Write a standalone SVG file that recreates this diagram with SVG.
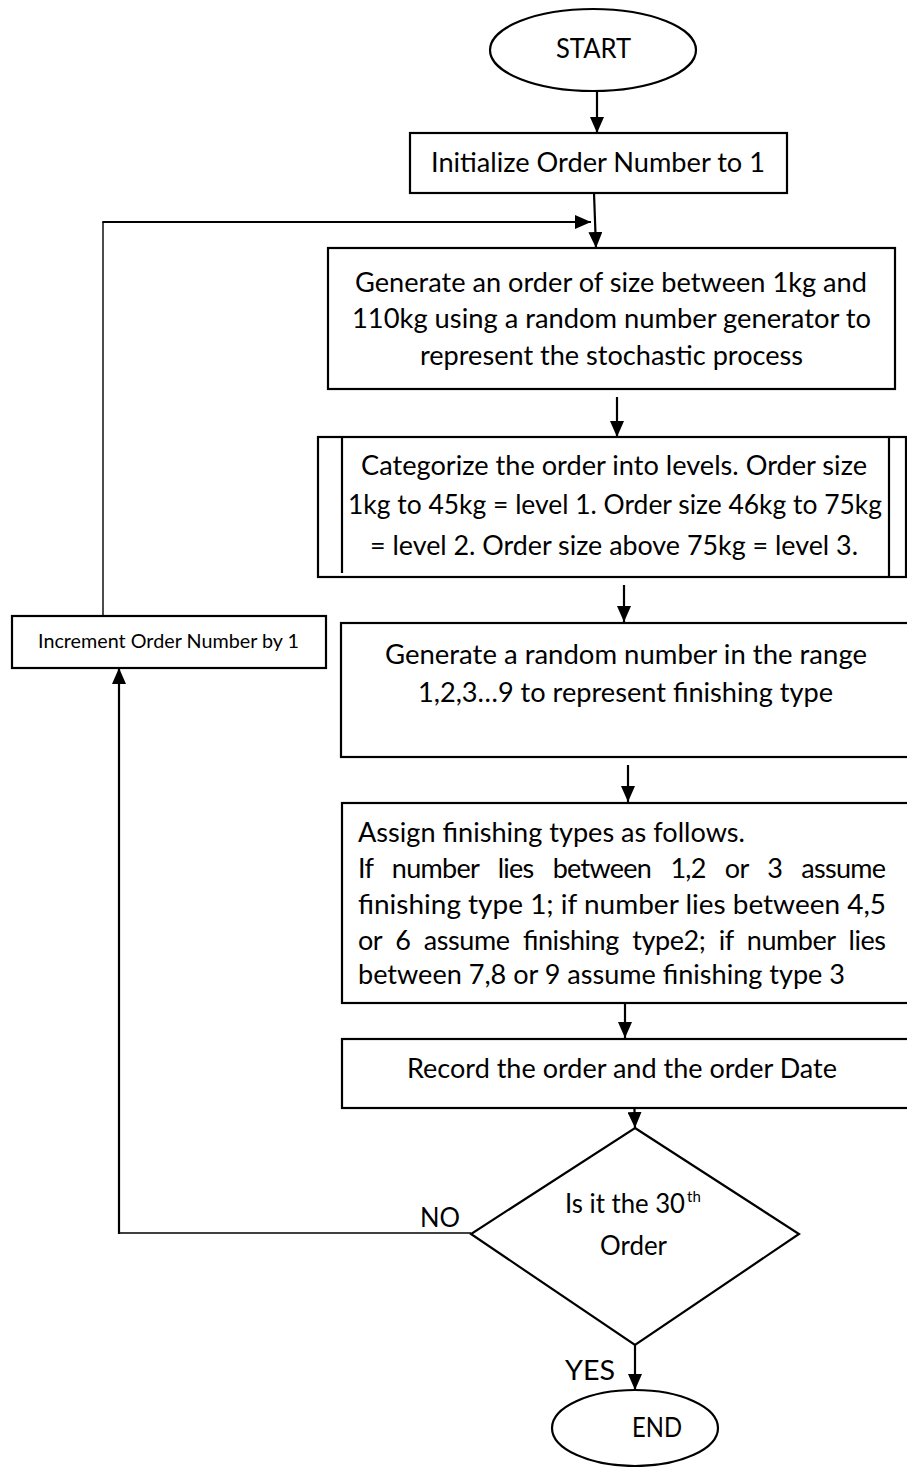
<svg xmlns="http://www.w3.org/2000/svg" width="907" height="1467" viewBox="0 0 907 1467">
  <style>
    .shape { fill: #ffffff; stroke: #000000; stroke-width: 2.2; }
    .rule { fill: none; stroke: #000000; stroke-width: 2.2; }
    .conn { fill: none; stroke: #000000; stroke-width: 2.2; }
    .thin { fill: none; stroke: #000000; stroke-width: 1.4; }
    .t { font-family: Lato, "Liberation Sans", sans-serif; font-size: 27px; fill: #000000; }
    .ts { font-family: Lato, "Liberation Sans", sans-serif; font-size: 20px; fill: #000000; }
    .sup { font-size: 15px; }
  </style>
  <defs>
    <marker id="arrow" markerUnits="userSpaceOnUse" markerWidth="16" markerHeight="14" viewBox="0 0 16 14" refX="16" refY="7" orient="auto">
      <path d="M0,0 L16,7 L0,14 Z" fill="#000000"/>
    </marker>
  </defs>
  <rect width="907" height="1467" fill="#ffffff"/>

  <!-- connectors -->
  <g id="connectors">
    <line class="conn" x1="597" y1="92" x2="597" y2="133" marker-end="url(#arrow)"/>
    <line class="conn" x1="594" y1="193" x2="596" y2="248" marker-end="url(#arrow)"/>
    <polyline class="thin" points="103,616 103,222"/>
    <line class="conn" x1="102.3" y1="222" x2="591" y2="222" marker-end="url(#arrow)"/>
    <line class="conn" x1="617" y1="397" x2="617" y2="437" marker-end="url(#arrow)"/>
    <line class="conn" x1="624" y1="585" x2="624" y2="622" marker-end="url(#arrow)"/>
    <line class="conn" x1="628" y1="765" x2="628" y2="802" marker-end="url(#arrow)"/>
    <line class="conn" x1="625" y1="992" x2="625" y2="1038" marker-end="url(#arrow)"/>
    <line class="conn" x1="634" y1="1092" x2="635" y2="1128" marker-end="url(#arrow)"/>
    <line class="conn" x1="635" y1="1345" x2="635" y2="1390" marker-end="url(#arrow)"/>
    <polyline class="thin" points="471,1233 119,1233"/>
    <line class="conn" x1="119" y1="1234" x2="119" y2="668" marker-end="url(#arrow)"/>
    <text class="t" x="420" y="1227" textLength="40" lengthAdjust="spacingAndGlyphs">NO</text>
    <text class="t" x="565" y="1380" textLength="50" lengthAdjust="spacingAndGlyphs">YES</text>
  </g>

  <g id="start">
    <ellipse class="shape" cx="593" cy="50" rx="103" ry="41"/>
    <text class="t" x="556" y="58" textLength="75" lengthAdjust="spacingAndGlyphs">START</text>
  </g>

  <g id="init">
    <rect class="shape" x="410" y="133" width="377" height="60"/>
    <text class="t" x="431" y="172" textLength="334" lengthAdjust="spacingAndGlyphs">Initialize Order Number to 1</text>
  </g>

  <g id="generate-order">
    <rect class="shape" x="328" y="248" width="567" height="141"/>
    <text class="t" x="355" y="292" textLength="512" lengthAdjust="spacingAndGlyphs">Generate an order of size between 1kg and</text>
    <text class="t" x="352" y="328" textLength="519" lengthAdjust="spacingAndGlyphs">110kg using a random number generator to</text>
    <text class="t" x="420" y="365" textLength="383" lengthAdjust="spacingAndGlyphs">represent the stochastic process</text>
  </g>

  <g id="categorize">
    <rect class="shape" x="318" y="437" width="588" height="140"/>
    <line class="rule" x1="342" y1="437" x2="342" y2="573"/>
    <line class="rule" x1="889" y1="437" x2="889" y2="577"/>
    <text class="t" x="361" y="475" textLength="506" lengthAdjust="spacingAndGlyphs">Categorize the order into levels. Order size</text>
    <text class="t" x="348" y="514" textLength="534" lengthAdjust="spacingAndGlyphs">1kg to 45kg = level 1. Order size 46kg to 75kg</text>
    <text class="t" x="370" y="555" textLength="488" lengthAdjust="spacingAndGlyphs">= level 2. Order size above 75kg = level 3.</text>
  </g>

  <g id="increment">
    <rect class="shape" x="12" y="616" width="314" height="52"/>
    <text class="ts" x="38" y="648" textLength="261" lengthAdjust="spacingAndGlyphs">Increment Order Number by 1</text>
  </g>

  <g id="random-number">
    <rect class="shape" x="341" y="623" width="575" height="134"/>
    <text class="t" x="385" y="664" textLength="482" lengthAdjust="spacingAndGlyphs">Generate a random number in the range</text>
    <text class="t" x="418" y="702" textLength="415" lengthAdjust="spacingAndGlyphs">1,2,3…9 to represent finishing type</text>
  </g>

  <g id="assign">
    <rect class="shape" x="342" y="803" width="575" height="200"/>
    <text class="t" x="358" y="842" textLength="387" lengthAdjust="spacingAndGlyphs">Assign finishing types as follows.</text>
    <text class="t" x="358" y="878" word-spacing="13" textLength="528" lengthAdjust="spacing">If number lies between 1,2 or 3 assume</text>
    <text class="t" x="358" y="914" textLength="528" lengthAdjust="spacingAndGlyphs">finishing type 1; if number lies between 4,5</text>
    <text class="t" x="358" y="950" word-spacing="7" textLength="528" lengthAdjust="spacing">or 6 assume finishing type2; if number lies</text>
    <text class="t" x="358" y="984" textLength="487" lengthAdjust="spacingAndGlyphs">between 7,8 or 9 assume finishing type 3</text>
  </g>

  <g id="record">
    <rect class="shape" x="342" y="1039" width="575" height="69"/>
    <text class="t" x="407" y="1078" textLength="430" lengthAdjust="spacingAndGlyphs">Record the order and the order Date</text>
  </g>

  <g id="decision">
    <polygon class="shape" points="635,1128 799,1234 635,1345 471,1234"/>
    <text class="t" x="565" y="1213"><tspan textLength="120" lengthAdjust="spacingAndGlyphs">Is it the 30</tspan><tspan class="sup" x="687" dy="-11">th</tspan></text>
    <text class="t" x="600" y="1255" textLength="67" lengthAdjust="spacingAndGlyphs">Order</text>
  </g>

  <g id="end">
    <ellipse class="shape" cx="635" cy="1428" rx="83" ry="38"/>
    <text class="t" x="632" y="1437" textLength="50" lengthAdjust="spacingAndGlyphs">END</text>
  </g>
</svg>
